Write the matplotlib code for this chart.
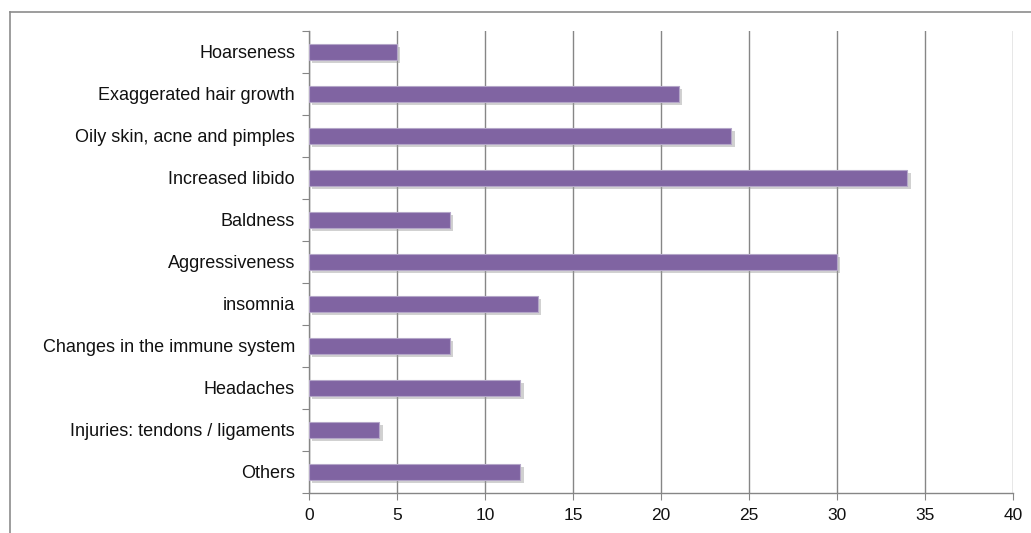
import matplotlib.pyplot as plt
import matplotlib.patheffects as pe
from matplotlib.lines import Line2D

categories = [
    "Hoarseness",
    "Exaggerated hair growth",
    "Oily skin, acne and pimples",
    "Increased libido",
    "Baldness",
    "Aggressiveness",
    "insomnia",
    "Changes in the immune system",
    "Headaches",
    "Injuries: tendons / ligaments",
    "Others",
]
values = [5, 21, 24, 34, 8, 30, 13, 8, 12, 4, 12]
xticks = [0, 5, 10, 15, 20, 25, 30, 35, 40]

plt.rcParams["font.family"] = ["Liberation Sans", "DejaVu Sans"]

W, H = 1031, 533
fig = plt.figure(figsize=(W / 100, H / 100), dpi=100)
ax = fig.add_axes([309 / W, 1 - 493 / H, (1013 - 309) / W, (493 - 31) / H])

pos = list(range(len(categories)))
bars = ax.barh(pos, values, height=0.38, color="#8064A2", edgecolor="#B4A6C8",
               linewidth=0.8, zorder=3)
for b in bars:
    b.set_path_effects([pe.SimplePatchShadow(offset=(2.5, -2.5), shadow_rgbFace="#999999", alpha=0.45),
                        pe.Normal()])

ax.set_ylim(len(categories) - 0.5, -0.5)
ax.set_xlim(0, 40)
ax.set_xticks(xticks)
ax.set_yticks([p - 0.5 for p in pos] + [len(categories) - 0.5])
ax.set_yticklabels([])
ax.set_yticks(pos, minor=True)
ax.set_yticklabels(categories, minor=True, fontsize=13, color="#111111")
ax.tick_params(axis="y", which="minor", length=0, pad=10)
ax.tick_params(axis="y", which="major", length=5, color="#868686", direction="out")
ax.tick_params(axis="x", length=5, color="#868686", labelsize=12.5, labelcolor="#111111", pad=6)

ax.grid(axis="x", color="#868686", linewidth=1.0, zorder=0)
for s in ["top", "right"]:
    ax.spines[s].set_visible(False)
for s in ["left", "bottom"]:
    ax.spines[s].set_color("#868686")
    ax.spines[s].set_linewidth(1.0)

# outer chart border (left and top visible)
fig.add_artist(Line2D([9.5 / W, 9.5 / W], [0, 1 - 11.5 / H], transform=fig.transFigure,
                      color="#8c8c8c", linewidth=1.2))
fig.add_artist(Line2D([9.5 / W, 1], [1 - 11.5 / H, 1 - 11.5 / H], transform=fig.transFigure,
                      color="#8c8c8c", linewidth=1.2))

fig.savefig("out.png", dpi=100)
